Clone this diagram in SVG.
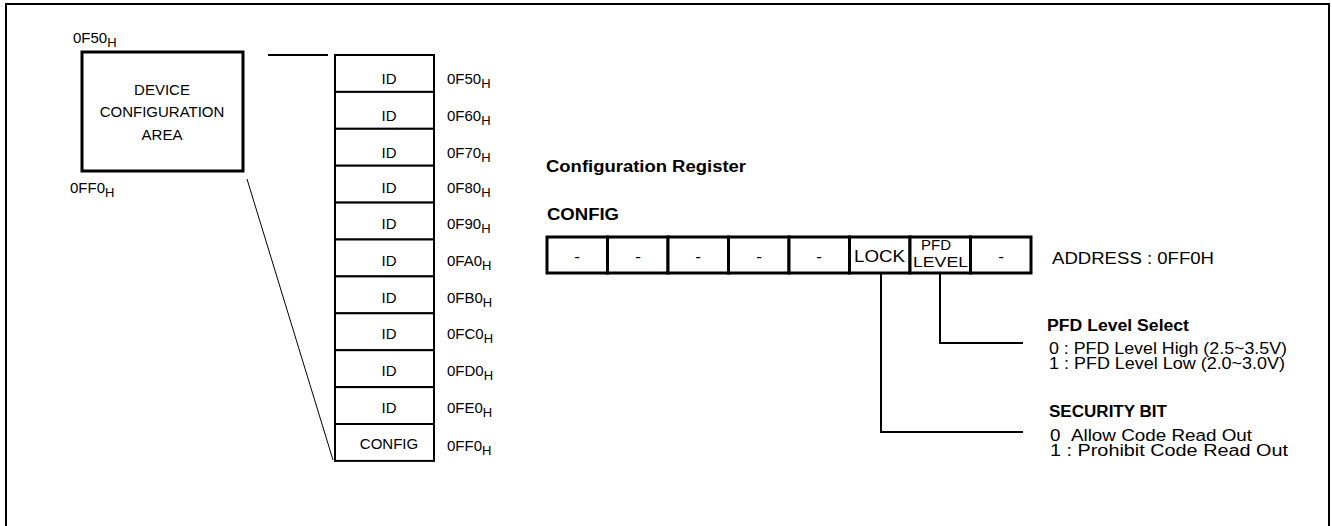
<svg xmlns="http://www.w3.org/2000/svg" width="1332" height="526" viewBox="0 0 1332 526">
<style>
text{font-family:"Liberation Sans",Arial,sans-serif;font-size:15px;fill:#000}
.b{font-weight:bold}
.m{text-anchor:middle}
.s{font-size:13px}
.r{font-size:16px}
.box{fill:#fff;stroke:#000;stroke-width:2}
.thick{fill:#fff;stroke:#000;stroke-width:3}
.ln{fill:none;stroke:#000;stroke-width:2}
.thin{fill:none;stroke:#000;stroke-width:1}
</style>
<rect x="0" y="0" width="1332" height="526" fill="#fff"/>
<rect x="6" y="4" width="1323" height="600" class="ln"/>

<g id="device-area">
<rect x="82" y="52" width="161" height="119" class="thick"/>
<text x="162" y="95" class="m">DEVICE</text>
<text x="162" y="117" class="m">CONFIGURATION</text>
<text x="162" y="140" class="m">AREA</text>
<text x="73" y="43">0F50<tspan dy="4" class="s">H</tspan></text>
<text x="70" y="193">0FF0<tspan dy="4" class="s">H</tspan></text>
</g>

<g id="connectors">
<line x1="268" y1="55" x2="328" y2="55" class="ln"/>
<line x1="247" y1="179" x2="333" y2="460" class="thin"/>
<polyline points="881,273 881,432 1023,432" class="ln"/>
<polyline points="940,273 940,343 1023,343" class="ln"/>
</g>

<g id="memory-map">
<rect x="335" y="55" width="99" height="36.9" class="box"/>
<rect x="335" y="91.9" width="99" height="36.9" class="box"/>
<rect x="335" y="128.8" width="99" height="36.9" class="box"/>
<rect x="335" y="165.7" width="99" height="36.9" class="box"/>
<rect x="335" y="202.6" width="99" height="36.9" class="box"/>
<rect x="335" y="239.5" width="99" height="36.9" class="box"/>
<rect x="335" y="276.4" width="99" height="36.9" class="box"/>
<rect x="335" y="313.3" width="99" height="36.9" class="box"/>
<rect x="335" y="350.2" width="99" height="36.9" class="box"/>
<rect x="335" y="387.1" width="99" height="36.9" class="box"/>
<rect x="335" y="424" width="99" height="36.9" class="box"/>
<text x="389" y="84" class="m">ID</text>
<text x="389" y="121" class="m">ID</text>
<text x="389" y="158" class="m">ID</text>
<text x="389" y="193" class="m">ID</text>
<text x="389" y="229" class="m">ID</text>
<text x="389" y="266" class="m">ID</text>
<text x="389" y="303" class="m">ID</text>
<text x="389" y="339" class="m">ID</text>
<text x="389" y="376" class="m">ID</text>
<text x="389" y="413" class="m">ID</text>
<text x="389" y="449" class="m">CONFIG</text>
<text x="447" y="84">0F50<tspan dy="4" class="s">H</tspan></text>
<text x="447" y="121">0F60<tspan dy="4" class="s">H</tspan></text>
<text x="447" y="158">0F70<tspan dy="4" class="s">H</tspan></text>
<text x="447" y="193">0F80<tspan dy="4" class="s">H</tspan></text>
<text x="447" y="229">0F90<tspan dy="4" class="s">H</tspan></text>
<text x="447" y="266">0FA0<tspan dy="4" class="s">H</tspan></text>
<text x="447" y="303">0FB0<tspan dy="4" class="s">H</tspan></text>
<text x="447" y="339">0FC0<tspan dy="4" class="s">H</tspan></text>
<text x="447" y="376">0FD0<tspan dy="4" class="s">H</tspan></text>
<text x="447" y="413">0FE0<tspan dy="4" class="s">H</tspan></text>
<text x="447" y="451">0FF0<tspan dy="4" class="s">H</tspan></text>
</g>

<g id="config-register">
<text x="546" y="172" class="b r" textLength="200" lengthAdjust="spacingAndGlyphs">Configuration Register</text>
<text x="547" y="220" class="b r" textLength="72" lengthAdjust="spacingAndGlyphs">CONFIG</text>
<rect x="547" y="237" width="60.5" height="36" class="thick"/>
<rect x="607.5" y="237" width="60.5" height="36" class="thick"/>
<rect x="668" y="237" width="60.5" height="36" class="thick"/>
<rect x="728.5" y="237" width="60.5" height="36" class="thick"/>
<rect x="789" y="237" width="60.5" height="36" class="thick"/>
<rect x="849.5" y="237" width="60.5" height="36" class="thick"/>
<rect x="910" y="237" width="60.5" height="36" class="thick"/>
<rect x="970.5" y="237" width="60.5" height="36" class="thick"/>
<text x="577" y="262" class="m" style="font-size:17px">-</text>
<text x="638" y="262" class="m" style="font-size:17px">-</text>
<text x="698" y="262" class="m" style="font-size:17px">-</text>
<text x="759" y="262" class="m" style="font-size:17px">-</text>
<text x="819" y="262" class="m" style="font-size:17px">-</text>
<text x="854" y="262" textLength="51" lengthAdjust="spacingAndGlyphs" style="font-size:16px">LOCK</text>
<text x="921" y="250" textLength="30" lengthAdjust="spacingAndGlyphs" style="font-size:14px">PFD</text>
<text x="913" y="267" textLength="55" lengthAdjust="spacingAndGlyphs" style="font-size:15px">LEVEL</text>
<text x="1001" y="262" class="m" style="font-size:17px">-</text>
<text x="1052" y="264" textLength="162" lengthAdjust="spacingAndGlyphs" style="font-size:16px">ADDRESS : 0FF0H</text>
</g>

<g id="pfd-level">
<text x="1047" y="331" class="b r" textLength="142" lengthAdjust="spacingAndGlyphs">PFD Level Select</text>
<text x="1049" y="354" class="r" textLength="238" lengthAdjust="spacingAndGlyphs">0 : PFD Level High (2.5~3.5V)</text>
<text x="1049" y="369" class="r" textLength="236" lengthAdjust="spacingAndGlyphs">1 : PFD Level Low (2.0~3.0V)</text>
</g>

<g id="security-bit">
<text x="1049" y="417" class="b r" textLength="118" lengthAdjust="spacingAndGlyphs">SECURITY BIT</text>
<text x="1050" y="441" class="r" textLength="202" lengthAdjust="spacingAndGlyphs">0&#160;&#160;Allow Code Read Out</text>
<text x="1050" y="456" class="r" textLength="238" lengthAdjust="spacingAndGlyphs">1 : Prohibit Code Read Out</text>
</g>
</svg>
